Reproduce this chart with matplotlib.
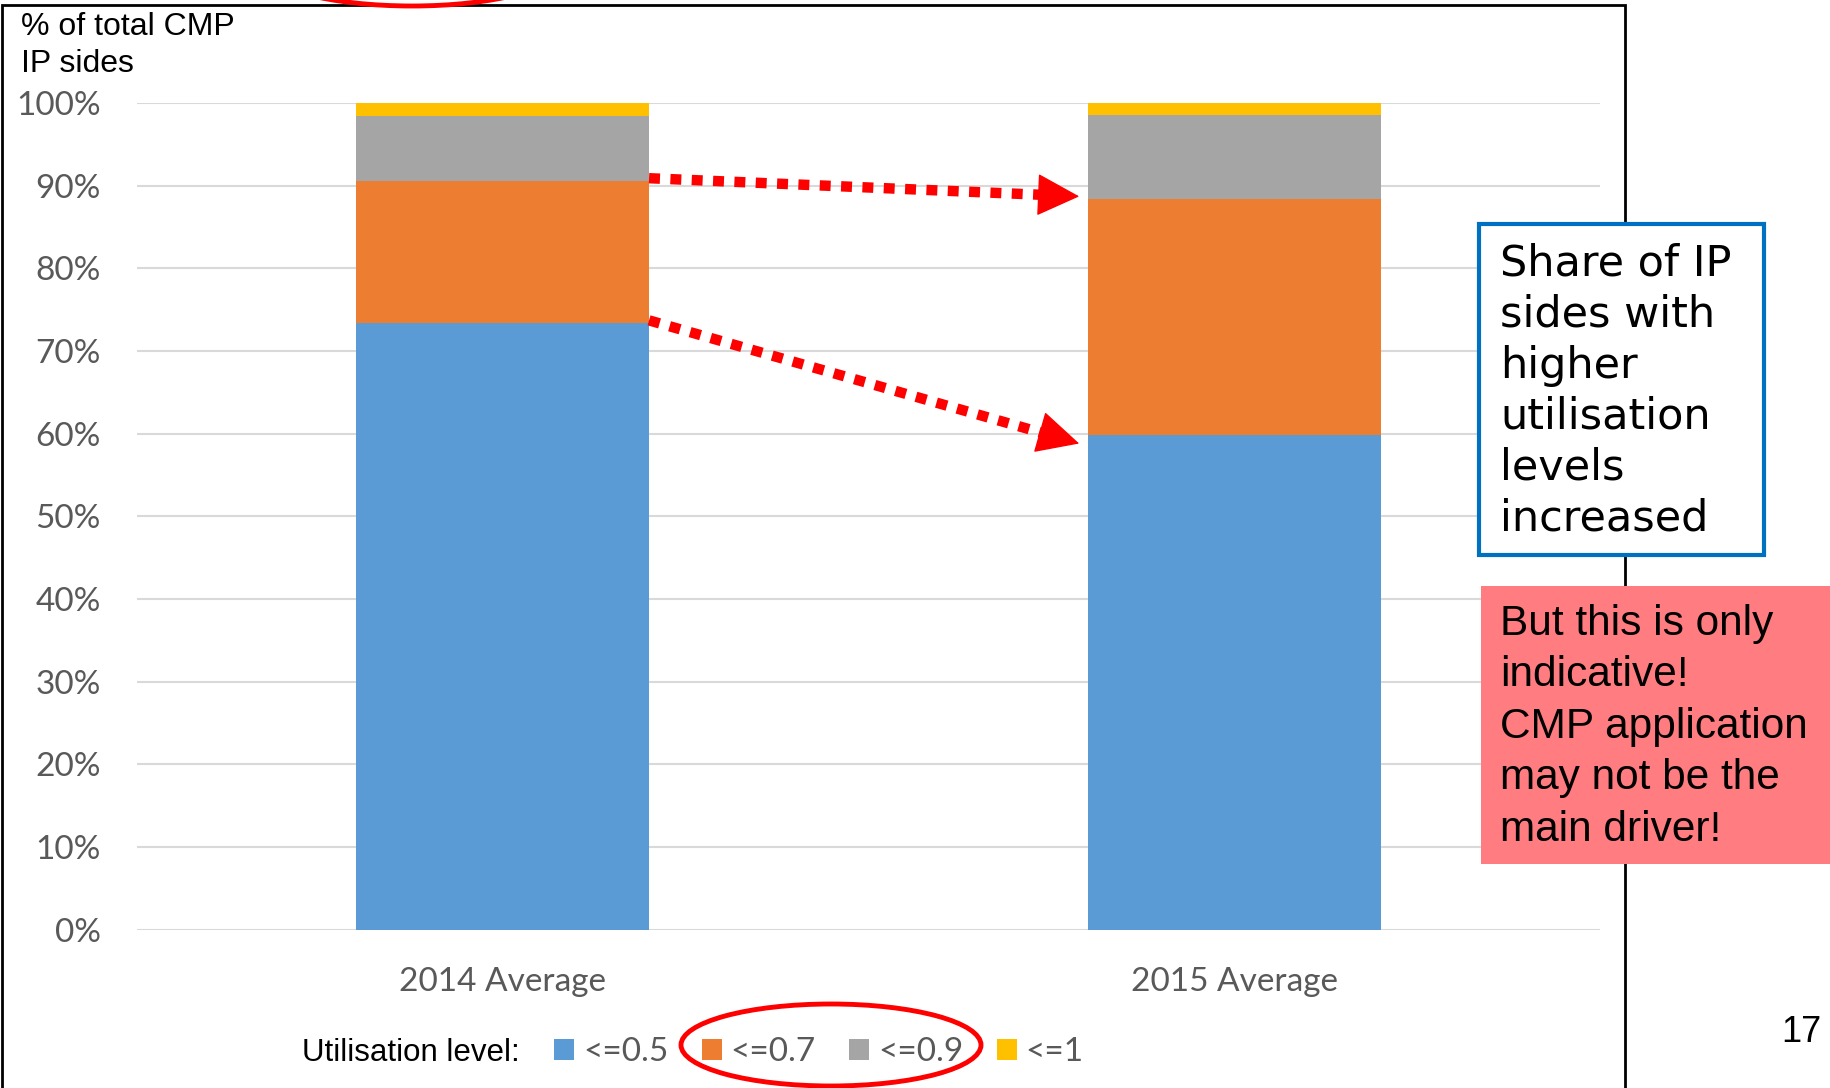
import matplotlib.pyplot as plt
from matplotlib.patches import Rectangle, Ellipse
from matplotlib.ticker import FuncFormatter

W, H = 1831, 1088

# data (% of total CMP IP sides)
categories = ['2014 Average', '2015 Average']
levels = ['<=0.5', '<=0.7', '<=0.9', '<=1']
share_05 = [73.4, 59.8]
share_07 = [17.2, 28.6]
share_09 = [7.8, 10.1]
share_1 = [1.6, 1.5]
colors = ['#5B9BD5', '#ED7D31', '#A5A5A5', '#FFC000']


def fx(x):
    return x / W


def fy(y):
    return 1 - y / H


fig = plt.figure(figsize=(W / 100, H / 100), dpi=100)
ax = fig.add_axes([fx(137), fy(929.5), fx(1600) - fx(137), fy(103) - fy(929.5)])

xs = range(len(categories))
width = 0.4
bottom = [0, 0]
bars = []
for vals, col, lab in zip([share_05, share_07, share_09, share_1], colors, levels):
    b = ax.bar(xs, vals, width, bottom=bottom, color=col, label=lab, zorder=3)
    bars.append(b)
    bottom = [p + q for p, q in zip(bottom, vals)]

ax.set_xlim(-0.5, 1.5)
ax.set_ylim(0, 100)
ax.set_yticks(range(0, 101, 10))
ax.yaxis.set_major_formatter(FuncFormatter(lambda v, p: '%d%%' % v))
ax.set_xticks(list(xs))
ax.set_xticklabels(categories)
for s in ax.spines.values():
    s.set_visible(False)
ax.grid(axis='y', color='#D9D9D9', lw=1.5, zorder=0)
ax.tick_params(length=0, labelcolor='#595959', labelsize=24)
ax.tick_params(axis='y', pad=26)
ax.tick_params(axis='x', pad=27)
for t in ax.get_xticklabels() + ax.get_yticklabels():
    t.set_family('Lato')

# dotted arrows between the bars
top_2014 = [share_05[0], share_05[0] + share_07[0]]
top_2015 = [share_05[1], share_05[1] + share_07[1]]
x0 = 0 + width / 2
x1 = 1 - width / 2 - 0.012
for y0, y1 in zip(top_2014, top_2015):
    y0 += 0.3
    y1 -= 1.0 if y1 < 70 else -0.3
    ax.plot([x0, x0 + (x1 - x0) * 0.92], [y0, y0 + (y1 - y0) * 0.92], color='red',
            lw=7.5, dashes=(1.05, 1.0), solid_capstyle='butt', dash_capstyle='butt', zorder=4)
    ax.annotate('', xy=(x1, y1), xytext=(x0 + (x1 - x0) * 0.94, y0 + (y1 - y0) * 0.94),
                arrowprops=dict(arrowstyle='-|>,head_length=0.5,head_width=0.25',
                                mutation_scale=56, color='red', lw=1, shrinkA=0, shrinkB=0),
                zorder=5)

# chart frame
fig.patches.append(Rectangle((fx(2), fy(1095)), fx(1625) - fx(2), fy(5) - fy(1095),
                             transform=fig.transFigure, fill=False, ec='black', lw=2))

fig.text(fx(21), fy(12), '% of total CMP\nIP sides', family='Liberation Sans', size=23,
         va='top', ha='left', linespacing=1.3)

# legend
fig.text(fx(302), fy(1053), 'Utilisation level:', family='Liberation Sans', size=22.5,
         va='center', ha='left')
leg = fig.legend(handles=bars, labels=levels, ncol=4, loc='center left',
                 bbox_to_anchor=(fx(554), fy(1052)), frameon=False,
                 handlelength=0.6, handleheight=0.6, handletextpad=0.27,
                 columnspacing=1.0, borderpad=0, borderaxespad=0,
                 prop={'family': 'Lato', 'size': 24})
for t in leg.get_texts():
    t.set_color('#595959')

fig.patches.append(Ellipse((fx(831), fy(1045)), fx(300), 82 / H, transform=fig.transFigure,
                           fill=False, ec='red', lw=3.5))
fig.patches.append(Ellipse((fx(412), fy(-34)), fx(300), 80 / H, transform=fig.transFigure,
                           fill=False, ec='red', lw=3.5))

# annotation boxes
fig.patches.append(Rectangle((fx(1479), fy(555)), fx(1764) - fx(1479), fy(224) - fy(555),
                             transform=fig.transFigure, fc='white', ec='#0070C0', lw=3))
fig.text(fx(1500), fy(243), 'Share of IP\nsides with\nhigher\nutilisation\nlevels\nincreased',
         family='DejaVu Sans', size=31, va='top', ha='left', linespacing=1.27)

fig.patches.append(Rectangle((fx(1481), fy(864)), fx(1840) - fx(1481), fy(586) - fy(864),
                             transform=fig.transFigure, fc='#FF7C80', ec='none'))
fig.text(fx(1500), fy(604), 'But this is only\nindicative!\nCMP application\nmay not be the\nmain driver!',
         family='Liberation Sans', size=30.5, va='top', ha='left', linespacing=1.37)

fig.text(fx(1781), fy(1033), '17', family='Liberation Sans', size=26, va='center', ha='left')

fig.savefig('out.png', dpi=100)
